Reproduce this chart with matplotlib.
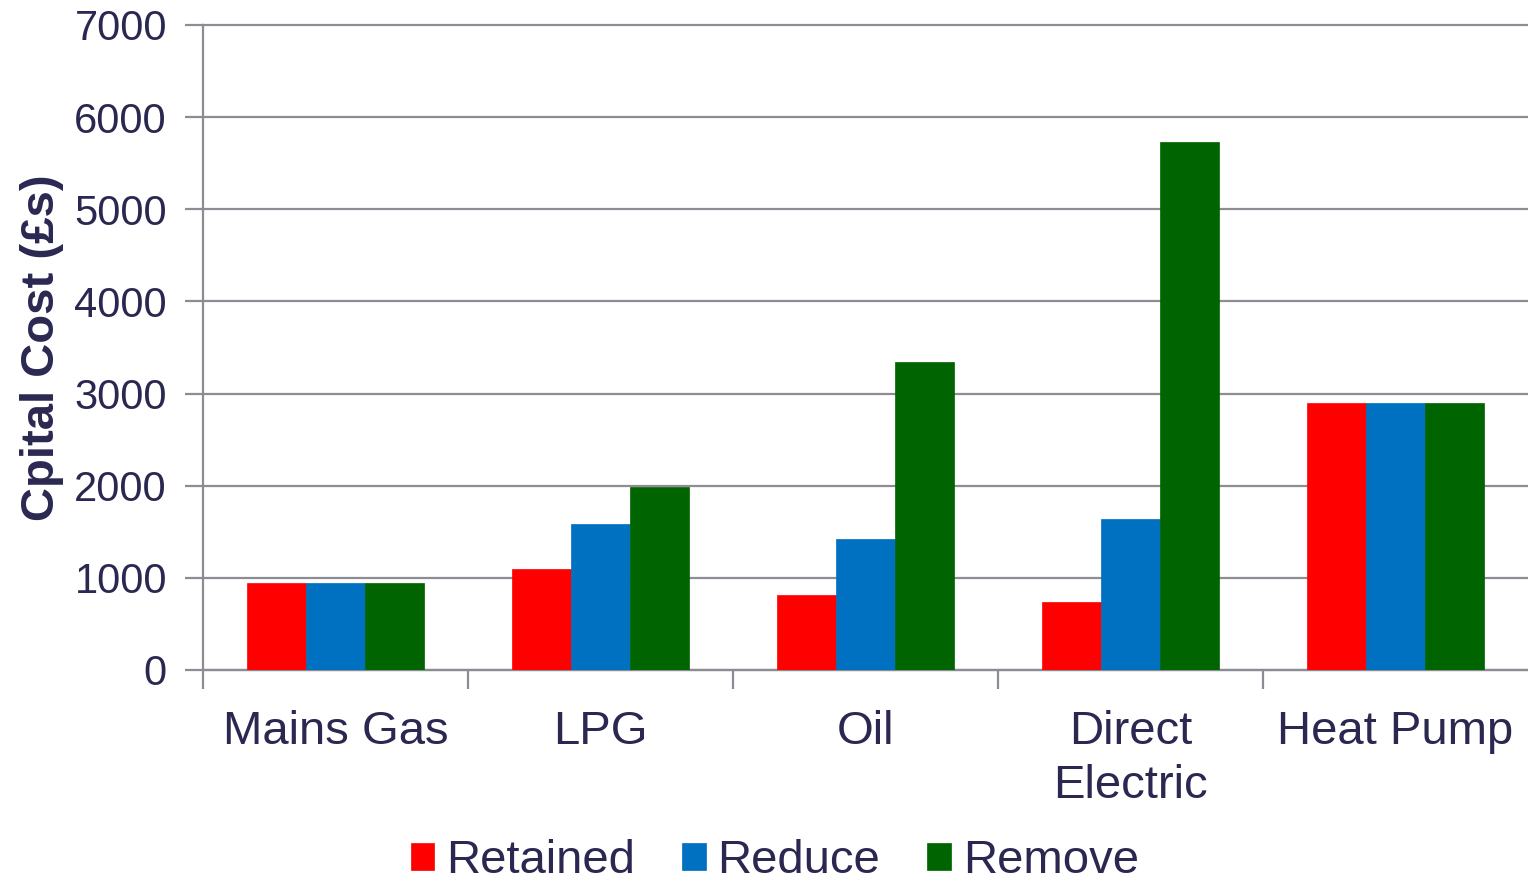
import numpy as np
import matplotlib.pyplot as plt

categories = ["Mains Gas", "LPG", "Oil", "Direct\nElectric", "Heat Pump"]
retained = [945, 1095, 815, 740, 2900]
reduce_ = [945, 1585, 1420, 1640, 2900]
remove = [945, 1990, 3345, 5725, 2900]
series_names = ["Retained", "Reduce", "Remove"]
yticks = [0, 1000, 2000, 3000, 4000, 5000, 6000, 7000]

colors = ["#FF0000", "#0070C0", "#006400"]
text_col = "#2A2850"
grid_col = "#8C8C94"

plt.rcParams['font.family'] = ['Liberation Sans', 'DejaVu Sans']

fig = plt.figure(figsize=(15.28, 8.82), dpi=100)
ax = fig.add_axes([0.1329, 0.2404, 0.8671, 0.7313])

x = np.arange(len(categories))
w = 0.2227
for i, (vals, name) in enumerate(zip([retained, reduce_, remove], series_names)):
    ax.bar(x + (i - 1) * w, vals, width=w, color=colors[i], label=name,
           edgecolor=colors[i], linewidth=0.5, zorder=3)

ax.set_xlim(-0.5, len(categories) - 0.5)
ax.set_ylim(0, 7000)
ax.set_yticks(yticks)
ax.set_yticklabels([str(t) for t in yticks])
ax.grid(axis='y', color=grid_col, linewidth=1.6, zorder=0)
for gl in ax.get_ygridlines():
    gl.set_clip_on(False)

# boundaries between categories carry the x ticks (none at the right edge)
ax.set_xticks(np.arange(-0.5, len(categories) - 1, 1.0))
ax.set_xticklabels([])
ax.set_xticks(x, minor=True)
ax.set_xticklabels(categories, minor=True, fontsize=34, color=text_col,
                   linespacing=1.28)
ax.tick_params(axis='x', which='minor', length=0, pad=29)
ax.tick_params(axis='x', which='major', length=14, width=1.6, color=grid_col)
ax.tick_params(axis='y', length=13, width=1.6, color=grid_col,
               labelsize=30, labelcolor=text_col, pad=13)

for s in ['top', 'right']:
    ax.spines[s].set_visible(False)
for s in ['left', 'bottom']:
    ax.spines[s].set_color(grid_col)
    ax.spines[s].set_linewidth(1.6)

ax.set_ylabel("Cpital Cost (£s)", fontsize=34, fontweight='bold', color=text_col)
ax.yaxis.set_label_coords(-0.105, 0.5)

leg = fig.legend(loc='center', bbox_to_anchor=(0.507, 0.024), ncol=3,
                 frameon=False, fontsize=34, handlelength=0.5, handleheight=0.5,
                 handletextpad=0.25, columnspacing=1.0, labelcolor=text_col,
                 borderpad=0.1)

fig.savefig("out.png", dpi=100)
